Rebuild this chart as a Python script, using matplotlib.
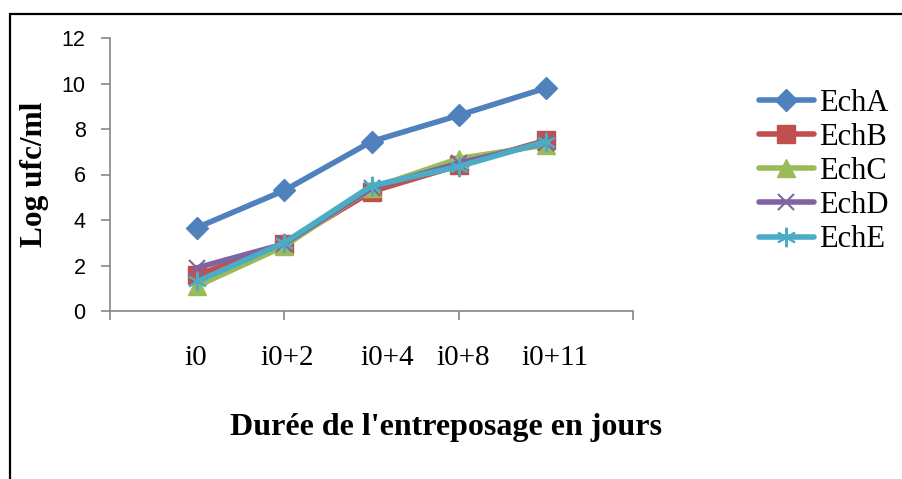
import matplotlib
matplotlib.use('Agg')
import matplotlib.pyplot as plt
from matplotlib.patches import Rectangle

# data
categories = ['i0', 'i0+2', 'i0+4', 'i0+8', 'i0+11']
ech_a = [3.67, 5.3, 7.45, 8.6, 9.8]
ech_b = [1.58, 2.95, 5.25, 6.4, 7.5]
ech_c = [1.1, 2.85, 5.4, 6.7, 7.3]
ech_d = [1.9, 2.95, 5.4, 6.5, 7.4]
ech_e = [1.3, 3.0, 5.5, 6.35, 7.45]
x = [1, 2, 3, 4, 5]

# where the category texts sit (they are loose text boxes in the original)
label_pos = [0.98, 2.03, 3.18, 4.05, 5.11]

serif = 'Liberation Serif'
axis_gray = '#868686'

fig = plt.figure(figsize=(9.03, 4.79), dpi=100)
ax = fig.add_axes([110/903, 1 - 311/479, 523/903, 273/479])

styles = [
    ('EchA', ech_a, '#4F81BD', 'D', 11, 0),
    ('EchB', ech_b, '#C0504D', 's', 13, 0),
    ('EchC', ech_c, '#9BBB59', '^', 13, 0),
    ('EchD', ech_d, '#8064A2', 'x', 12, 1.5),
    ('EchE', ech_e, '#4BACC6', (6, 2, 0), 14, 1.5),
]
for name, vals, col, mk, ms, mew in styles:
    if mew:
        ax.plot(x, vals, color=col, lw=4, marker=mk, ms=ms,
                mew=mew, mec=col, label=name, solid_capstyle='round')
    else:
        ax.plot(x, vals, color=col, lw=4, marker=mk, ms=ms,
                mec=col, mfc=col, label=name, solid_capstyle='round')

ax.set_xlim(0, 6)
ax.set_ylim(0, 12)
ax.set_yticks(range(0, 13, 2))
ax.set_xticks([0, 2, 4, 6])
ax.set_xticklabels([])
for s in ['top', 'right']:
    ax.spines[s].set_visible(False)
for s in ['left', 'bottom']:
    ax.spines[s].set_color(axis_gray)
    ax.spines[s].set_linewidth(1.2)
    ax.spines[s].set_clip_on(False)
ax.tick_params(axis='both', colors=axis_gray, width=1.2, length=6.5)
ax.tick_params(axis='y', labelcolor='black', labelsize=15.5, pad=11)
for t in ax.get_yticklabels():
    t.set_fontfamily('Liberation Sans')

for px, lab in zip(label_pos, categories):
    ax.text(px, -47/273, lab, transform=ax.get_xaxis_transform(),
            ha='center', va='center', fontsize=21, family=serif)

fig.text(35/903, 1 - 174/479, 'Log ufc/ml', rotation=90, ha='center',
         va='center', fontsize=22.5, fontweight='bold', family=serif)
fig.text(446/903, 1 - 428/479, "Durée de l'entreposage en jours",
         ha='center', va='center', fontsize=23, fontweight='bold', family=serif)

leg = fig.legend(loc='center left', bbox_to_anchor=(759/903, 1 - 171.5/479),
                 frameon=False, borderpad=0, borderaxespad=0,
                 handlelength=1.8, handletextpad=0.15, labelspacing=0.17,
                 prop={'family': serif, 'size': 22})

# outer frame of the original figure
fig.patches.append(Rectangle((10/903, -0.05), 1.0, 1 - 14.5/479 + 0.05,
                             transform=fig.transFigure, fill=False,
                             edgecolor='black', lw=1.6))

fig.savefig('out.png', dpi=100)
